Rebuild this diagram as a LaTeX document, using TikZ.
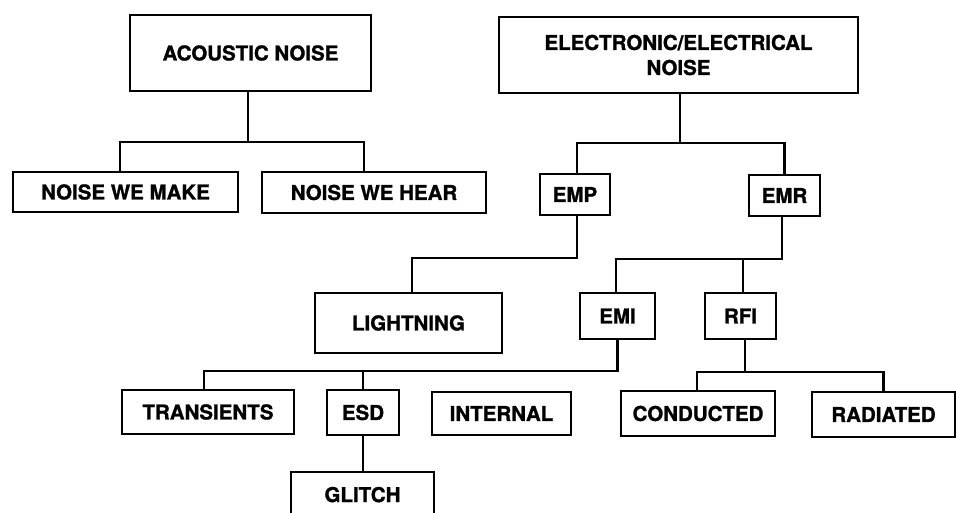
\documentclass[tikz,border=0pt]{standalone}
\usepackage{fontspec}
\setmainfont{TeX Gyre Heros}[BoldFeatures={FakeBold=1.2}]
\begin{document}
\begin{tikzpicture}[x=1pt,y=-1pt,
  box/.style={draw,line width=2.8pt,rectangle,inner sep=0pt,align=center,
    font=\fontsize{20.5}{25}\selectfont\bfseries},
  conn/.style={line width=2.8pt}]
\useasboundingbox (0,0) rectangle (956,513);
\node[box,minimum width=241pt,minimum height=76pt] (acou) at (250.5,53) {ACOUSTIC NOISE};
\node[box,minimum width=359pt,minimum height=76pt] (elec) at (678.5,55) {ELECTRONIC/ELECTRICAL\\NOISE};
\node[box,minimum width=225pt,minimum height=40pt] (make) at (125.5,192) {NOISE WE MAKE};
\node[box,minimum width=224pt,minimum height=41pt] (hear) at (374,192.5) {NOISE WE HEAR};
\node[box,minimum width=70pt,minimum height=41pt] (emp) at (575,194.5) {EMP};
\node[box,minimum width=71pt,minimum height=41pt] (emr) at (784.5,195.5) {EMR};
\node[box,minimum width=187pt,minimum height=60pt] (light) at (408.5,323) {LIGHTNING};
\node[box,minimum width=75pt,minimum height=46pt] (emi) at (617.5,316) {EMI};
\node[box,minimum width=71pt,minimum height=46pt] (rfi) at (740.5,316) {RFI};
\node[box,minimum width=172pt,minimum height=44pt] (trans) at (208,412) {TRANSIENTS};
\node[box,minimum width=72pt,minimum height=45pt] (esd) at (363,412.5) {ESD};
\node[box,minimum width=139pt,minimum height=43pt] (intl) at (501.5,413.5) {INTERNAL};
\node[box,minimum width=154pt,minimum height=45pt] (cond) at (698,413.5) {CONDUCTED};
\node[box,minimum width=143pt,minimum height=45pt] (rad) at (883.5,414.5) {RADIATED};
\node[box,minimum width=143pt,minimum height=66pt,text depth=0pt] (glitch) at (362.5,505) {\raisebox{21pt}{GLITCH}};
% junction coordinates
\coordinate (j1) at (248,142);
\coordinate (j2) at (680,143);
\coordinate (j3) at (412,258);
\coordinate (j4) at (616,259);
\coordinate (j5) at (743,259);
\coordinate (j6) at (204,371);
\coordinate (j7) at (363,371);
\coordinate (j8) at (745,372);
% connectors
\draw[conn] (acou.south -| j1) -- (j1);
\draw[conn] ([xshift=-5.5pt]make.north) |- (j1) -| ([xshift=-10pt]hear.north);
\draw[conn] (elec.south -| j2) -- (j2);
\draw[conn] ([xshift=2pt]emp.north) |- (j2) -| (emr.north);
\draw[conn] ([xshift=2pt]emp.south) |- (j3) -- (light.north -| j3);
\draw[conn] ([xshift=-2.5pt]emr.south) |- (j4) -- (emi.north -| j4);
\draw[conn] (j5) -- (rfi.north -| j5);
\draw[conn] (emi.south) |- (j6) -- (trans.north -| j6);
\draw[conn] (j7) -- (esd.north);
\draw[conn] (esd.south) -- (esd.south |- glitch.north);
\draw[conn] (rfi.south -| j8) -- (j8);
\draw[conn] ([xshift=-1pt]cond.north) |- (j8) -| (rad.north);
\end{tikzpicture}
\end{document}
